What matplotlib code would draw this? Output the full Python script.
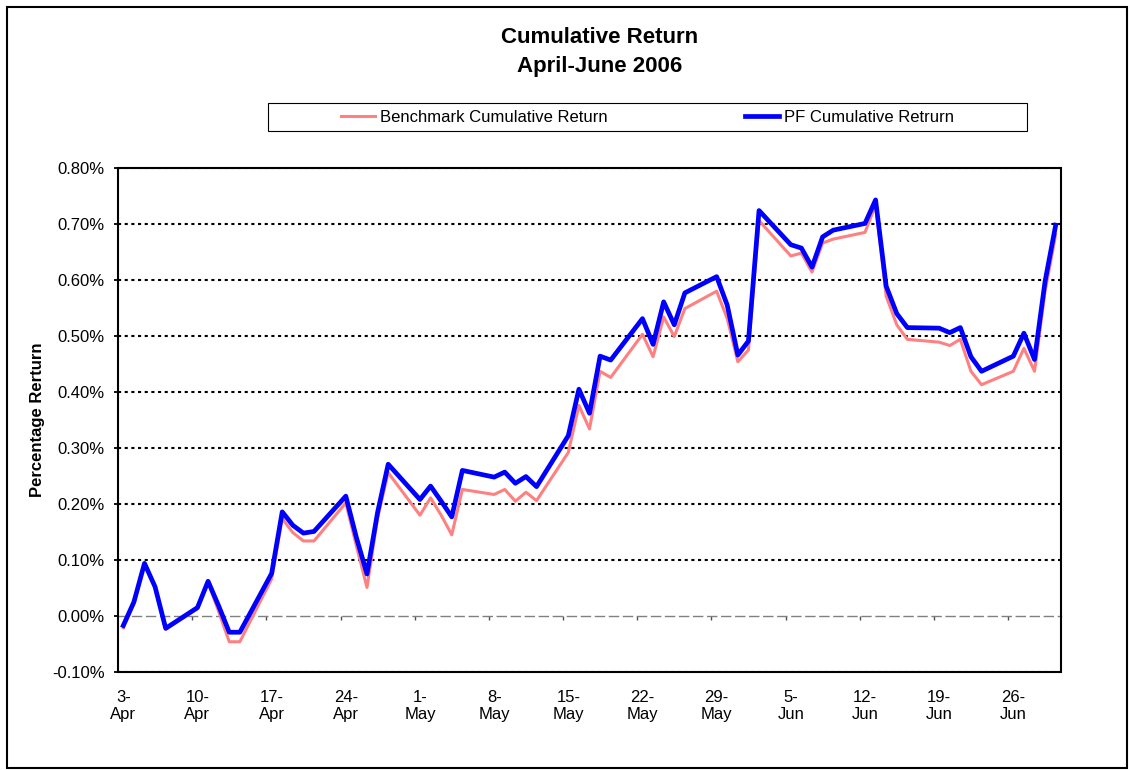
import pandas as pd
import matplotlib
matplotlib.use("Agg")
import matplotlib.pyplot as plt
from matplotlib.patches import Rectangle
from matplotlib.ticker import FuncFormatter

plt.rcParams['font.family'] = ['Liberation Sans', 'DejaVu Sans']

# --- Data (cumulative return in %) ---
dates = pd.bdate_range("2006-04-03", "2006-06-30")

benchmark = [
    -0.021, 0.022, 0.093, 0.051, -0.024,   # 3-7 Apr
    0.013, 0.060, 0.008, -0.046, -0.046,   # 10-14 Apr
    0.066, 0.174, 0.149, 0.134, 0.134,     # 17-21 Apr
    0.202, 0.125, 0.051, 0.175, 0.256,     # 24-28 Apr
    0.180, 0.211, 0.180, 0.145, 0.226,     # 1-5 May
    0.217, 0.226, 0.205, 0.221, 0.206,     # 8-12 May
    0.292, 0.376, 0.334, 0.437, 0.426,     # 15-19 May
    0.503, 0.463, 0.534, 0.499, 0.549,     # 22-26 May
    0.580, 0.531, 0.454, 0.475, 0.706,     # 29 May-2 Jun
    0.643, 0.648, 0.614, 0.666, 0.673,     # 5-9 Jun
    0.685, 0.734, 0.571, 0.520, 0.494,     # 12-16 Jun
    0.489, 0.483, 0.494, 0.437, 0.413,     # 19-23 Jun
    0.437, 0.478, 0.437, 0.580, 0.681,     # 26-30 Jun
]
portfolio = [
    -0.017, 0.025, 0.094, 0.052, -0.022,
    0.015, 0.062, 0.018, -0.029, -0.029,
    0.076, 0.186, 0.162, 0.148, 0.151,
    0.214, 0.140, 0.075, 0.185, 0.271,
    0.208, 0.232, 0.205, 0.177, 0.260,
    0.248, 0.257, 0.237, 0.249, 0.231,
    0.322, 0.405, 0.362, 0.464, 0.457,
    0.531, 0.485, 0.561, 0.520, 0.577,
    0.606, 0.555, 0.466, 0.491, 0.724,
    0.663, 0.657, 0.623, 0.677, 0.689,
    0.701, 0.743, 0.589, 0.540, 0.515,
    0.514, 0.506, 0.515, 0.463, 0.437,
    0.464, 0.505, 0.458, 0.598, 0.698,
]
series_names = ["Benchmark Cumulative Return", "PF Cumulative Retrurn"]
y_ticks = [-0.1, 0.0, 0.1, 0.2, 0.3, 0.4, 0.5, 0.6, 0.7, 0.8]

# --- Figure ---
W, H = 1130, 770
fig = plt.figure(figsize=(W / 100, H / 100), dpi=100)

# plot area in pixels: x 118..1061, y 168..672
ax = fig.add_axes([118 / W, 1 - 672 / H, (1061 - 118) / W, (672 - 168) / H])

day = (dates - dates[0]).days.values
ax.plot(day, benchmark, color='#FF8080', lw=2.2, zorder=3, label=series_names[0])
ax.plot(day, portfolio, color='#0000FF', lw=3.4, zorder=4, label=series_names[1])

ax.set_xlim(-0.5, day[-1] + 0.5)
ax.set_ylim(y_ticks[0], y_ticks[-1])

# gridlines (dotted black), zero line is the dashed axis line instead
for t in y_ticks:
    if t != 0:
        ax.axhline(t, color='black', lw=1.5, linestyle=(0, (1.5, 1.7)), zorder=1)

ax.set_yticks(y_ticks)
ax.yaxis.set_major_formatter(FuncFormatter(lambda v, _: f"{v:.2f}%"))
ax.tick_params(axis='y', direction='out', length=3, width=1.3, pad=6.5,
               labelsize=12, colors='black')

# category axis crosses at 0: dashed grey with small week ticks
for side in ['top', 'right', 'left']:
    ax.spines[side].set_visible(False)
ax.spines['bottom'].set_position(('data', 0))
ax.spines['bottom'].set_color('#808080')
ax.spines['bottom'].set_linewidth(1.0)
ax.spines['bottom'].set_linestyle((0, (6.5, 3.6)))
week_days = list(range(0, int(day[-1]) + 1, 7))
ax.set_xticks([d - 0.5 for d in week_days[1:]])
ax.tick_params(axis='x', direction='out', length=3, width=1.0, color='#505050',
               labelbottom=False)

# date labels at the bottom of the plot area
sec = ax.secondary_xaxis(0)
label_dates = [dates[0] + pd.Timedelta(days=d) for d in week_days]
sec.set_xticks(week_days, labels=[f"{d.day}-\n{d:%b}" for d in label_dates])
sec.tick_params(length=0, pad=13, labelsize=12)
sec.spines['bottom'].set_visible(False)

# plot-area frame
ax.add_patch(Rectangle((0, 0), 1, 1, transform=ax.transAxes, fill=False,
                       ec='black', lw=1.5, zorder=6, clip_on=False))

# titles / labels
fig.text(600 / W, 1 - 52 / H, "Cumulative Return\nApril-June 2006", ha='center',
         va='center', fontsize=16, fontweight='bold', linespacing=1.45)
fig.text(38 / W, 1 - 420 / H, "Percentage Rerturn", rotation=90, ha='center',
         va='center', fontsize=12, fontweight='bold')

# legend box
fig.patches.append(Rectangle((268 / W, 1 - 131 / H), (1027 - 268) / W, 28 / H,
                             transform=fig.transFigure, fill=False, ec='black', lw=0.8))
handles, labels = ax.get_legend_handles_labels()
fig.legend(handles, labels, loc='center', bbox_to_anchor=((268 + 1027) / 2 / W, 1 - 117 / H),
           ncol=2, frameon=False, fontsize=12, handlelength=2.0,
           handletextpad=0.3, columnspacing=8.3)

# outer chart border
fig.patches.append(Rectangle((7 / W, 2 / H), (1127 - 7) / W, (768 - 7) / H,
                             transform=fig.transFigure, fill=False, ec='black', lw=1.5))

fig.savefig("out.png", dpi=100)
